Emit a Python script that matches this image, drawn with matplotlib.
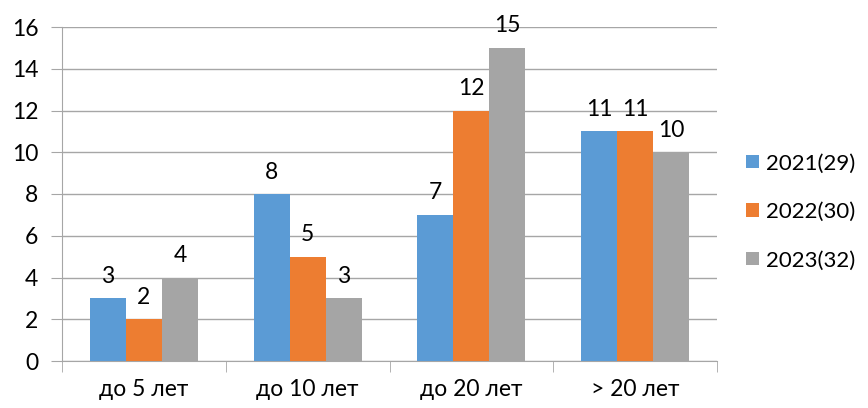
import matplotlib.pyplot as plt
import numpy

plt.rcParams['font.family'] = ['Lato', 'DejaVu Sans']

categories = ['до 5 лет', 'до 10 лет', 'до 20 лет', '> 20 лет']
series_names = ['2021(29)', '2022(30)', '2023(32)']
values_2021 = [3, 8, 7, 11]
values_2022 = [2, 5, 12, 11]
values_2023 = [4, 3, 15, 10]
colors = ['#5B9BD5', '#ED7D31', '#A5A5A5']

fig = plt.figure(figsize=(8.68, 4.08), dpi=100)
ax = fig.add_axes([62 / 868, 47 / 408, 655 / 868, 334 / 408])

x = numpy.arange(len(categories))
width = 0.22
all_values = [values_2021, values_2022, values_2023]
for i, (vals, name, c) in enumerate(zip(all_values, series_names, colors)):
    pos = x + (i - 1) * width
    bars = ax.bar(pos, vals, width, color=c, label=name, zorder=3)
    for xp, v in zip(pos, vals):
        ax.text(xp, v + 0.55, str(v), ha='center', va='bottom', fontsize=16.5)

ax.set_xlim(-0.5, len(categories) - 0.5)
ax.set_ylim(0, 16)
ax.set_yticks(range(0, 17, 2))
ax.tick_params(axis='y', labelsize=16.5, length=8, color='#A6A6A6', pad=9)
ax.yaxis.grid(True, color='#A6A6A6', linewidth=1, zorder=0)

ax.set_xticks(x)
ax.set_xticklabels(categories, fontsize=16.5)
ax.tick_params(axis='x', length=0, pad=13)
ax.set_xticks(numpy.arange(-0.5, len(categories)), minor=True)
ax.tick_params(axis='x', which='minor', length=8, color='#A6A6A6')

for s in ['top', 'right']:
    ax.spines[s].set_visible(False)
ax.spines['left'].set_color('#A6A6A6')
ax.spines['bottom'].set_color('#A6A6A6')

ax.legend(loc='center left', bbox_to_anchor=(1.028, 0.446), frameon=False,
          fontsize=16, handlelength=0.55, handleheight=0.55, handletextpad=0.35,
          labelspacing=1.28, borderpad=0)

fig.savefig('out.png', dpi=100)
